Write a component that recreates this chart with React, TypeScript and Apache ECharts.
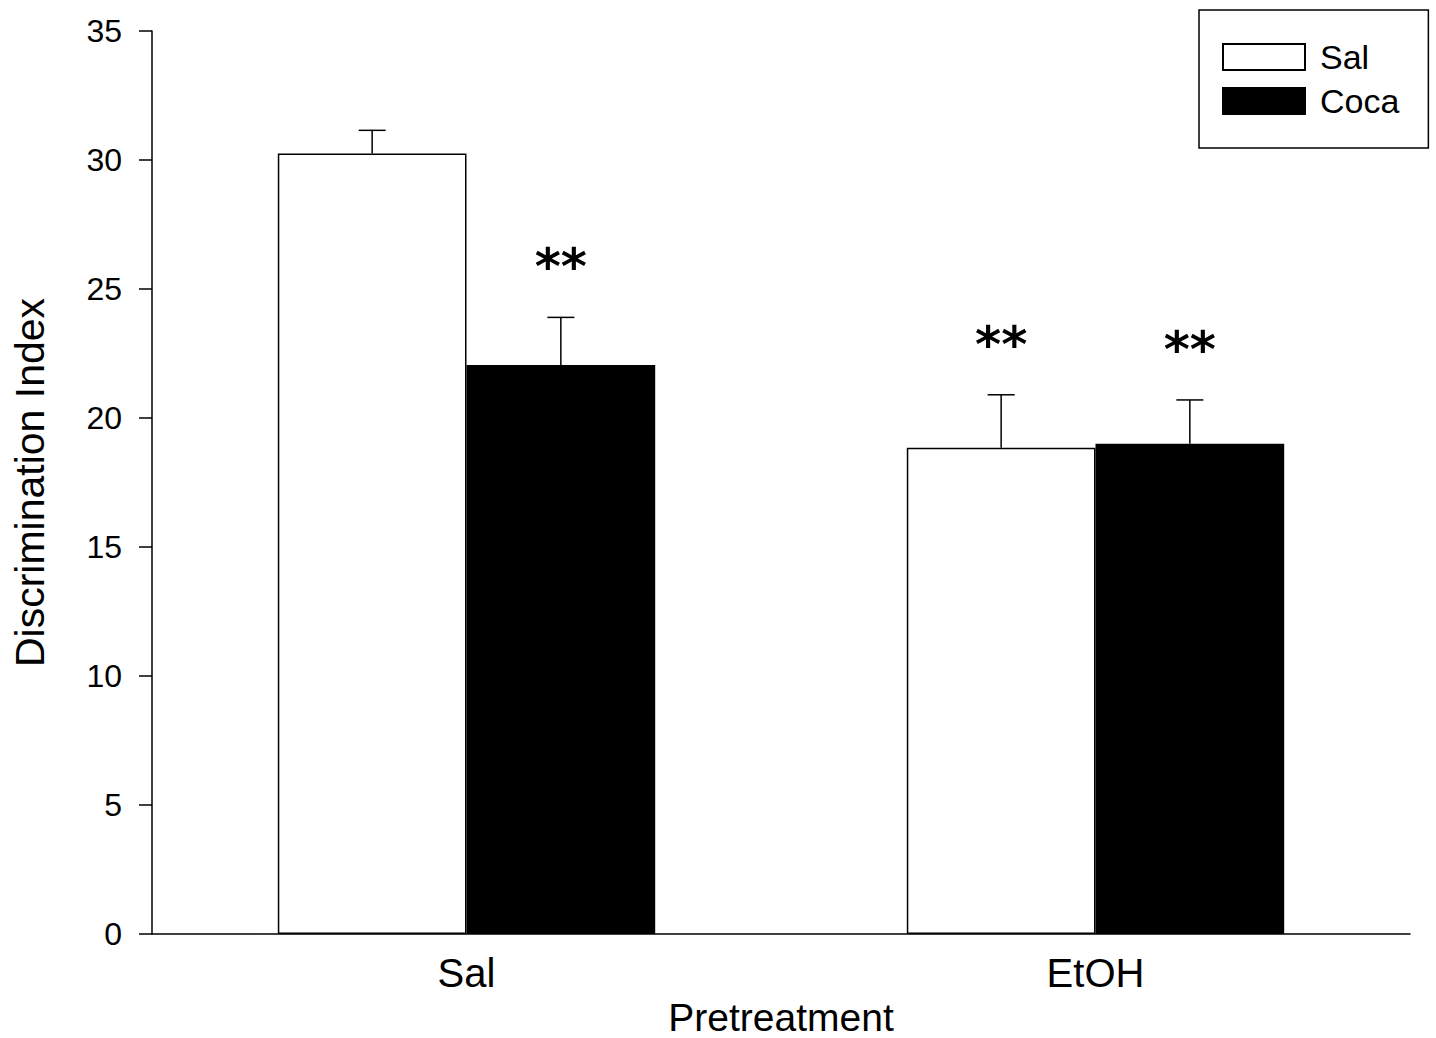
import React, { useEffect, useRef } from "react";
import * as echarts from "echarts";

const groups = ["Sal", "EtOH"];
const salMeans = [30.25, 18.85];
const salErrors = [0.9, 2.05];
const salSig = ["", "**"];
const cocaMeans = [22.05, 19.0];
const cocaErrors = [1.85, 1.7];
const cocaSig = ["**", "**"];
const yTicks = { min: 0, max: 35, interval: 5 };

const FONT = "'Liberation Sans', Arial, sans-serif";

export default function App() {
  const ref = useRef<HTMLDivElement>(null);
  useEffect(() => {
    if (!ref.current) return;
    const chart = echarts.init(ref.current, null, { renderer: "svg" });

    // error bar records: [categoryIndex, slot, mean, top]
    const errData: number[][] = [];
    const errSig: string[] = [];
    groups.forEach((_, i) => {
      errData.push([i, 0, salMeans[i], salMeans[i] + salErrors[i]]);
      errSig.push(salSig[i]);
      errData.push([i, 1, cocaMeans[i], cocaMeans[i] + cocaErrors[i]]);
      errSig.push(cocaSig[i]);
    });

    const option: any = {
      animation: false,
      backgroundColor: "#ffffff",
      textStyle: { fontFamily: FONT, color: "#000" },
      grid: {
        left: 152,
        right: 26,
        top: 31,
        bottom: 104,
        containLabel: false,
        outerBoundsMode: "none",
      },
      legend: {
        data: ["Sal", "Coca"],
        orient: "vertical",
        left: 1199,
        top: 10,
        padding: [30, 29, 30, 23],
        itemWidth: 82,
        itemHeight: 26,
        itemGap: 10,
        borderColor: "#000",
        borderWidth: 1.5,
        borderRadius: 0,
        icon: "rect",
        textStyle: {
          fontSize: 34,
          color: "#000",
          fontFamily: FONT,
          padding: [0, 0, 0, 10],
        },
      },
      xAxis: {
        type: "category",
        data: groups,
        name: "Pretreatment",
        nameLocation: "middle",
        nameGap: 52,
        nameTextStyle: { fontSize: 39, color: "#000", fontFamily: FONT },
        axisLine: { lineStyle: { color: "#000", width: 1.5 } },
        axisTick: { alignWithLabel: true, length: 13, lineStyle: { color: "#000", width: 1.5 } },
        axisLabel: { fontSize: 40, color: "#000", margin: 19, fontFamily: FONT },
        splitLine: { show: false },
      },
      yAxis: {
        type: "value",
        min: yTicks.min,
        max: yTicks.max,
        interval: yTicks.interval,
        name: "Discrimination Index",
        nameLocation: "middle",
        nameGap: 102,
        nameTextStyle: { fontSize: 41, color: "#000", fontFamily: FONT },
        axisLine: { show: true, lineStyle: { color: "#000", width: 1.5 } },
        axisTick: { show: true, length: 13, lineStyle: { color: "#000", width: 1.5 } },
        axisLabel: { fontSize: 32, color: "#000", margin: 30, fontFamily: FONT },
        splitLine: { show: false },
      },
      series: [
        {
          name: "Sal",
          type: "bar",
          data: salMeans,
          barWidth: "30%",
          barGap: "0%",
          itemStyle: { color: "#ffffff", borderColor: "#000", borderWidth: 1.5 },
        },
        {
          name: "Coca",
          type: "bar",
          data: cocaMeans,
          barWidth: "30%",
          barGap: "0%",
          itemStyle: { color: "#000000", borderColor: "#000", borderWidth: 1.5 },
        },
        {
          type: "custom",
          z: 10,
          data: errData,
          renderItem: (params: any, api: any) => {
            const cat = api.value(0);
            const slot = api.value(1);
            const mean = api.value(2);
            const top = api.value(3);
            const band = api.size([1, 0])[0];
            const bw = band * 0.3;
            const cx = api.coord([cat, 0])[0] + (slot === 0 ? -bw / 2 : bw / 2);
            const yMean = api.coord([cat, mean])[1];
            const yTop = api.coord([cat, top])[1];
            const cap = 13.5;
            const lineStyle = { stroke: "#000", lineWidth: 1.5 };
            const sig = errSig[params.dataIndex];
            const children: any[] = [
              { type: "line", shape: { x1: cx, y1: yMean, x2: cx, y2: yTop }, style: lineStyle },
              { type: "line", shape: { x1: cx - cap, y1: yTop, x2: cx + cap, y2: yTop }, style: lineStyle },
            ];
            if (sig) {
              children.push({
                type: "text",
                x: cx,
                y: yTop - 50,
                style: {
                  text: sig,
                  fontSize: 50,
                  fontWeight: "bold",
                  fontFamily: "'DejaVu Sans', sans-serif",
                  fill: "#000",
                  align: "center",
                  verticalAlign: "middle",
                },
              });
            }
            return { type: "group", children };
          },
        },
      ],
    };
    chart.setOption(option);
    return () => chart.dispose();
  }, []);
  return (
    <div
      ref={ref}
      style={{ position: "fixed", left: 0, top: 0, width: 1436, height: 1038, background: "#fff" }}
    />
  );
}
